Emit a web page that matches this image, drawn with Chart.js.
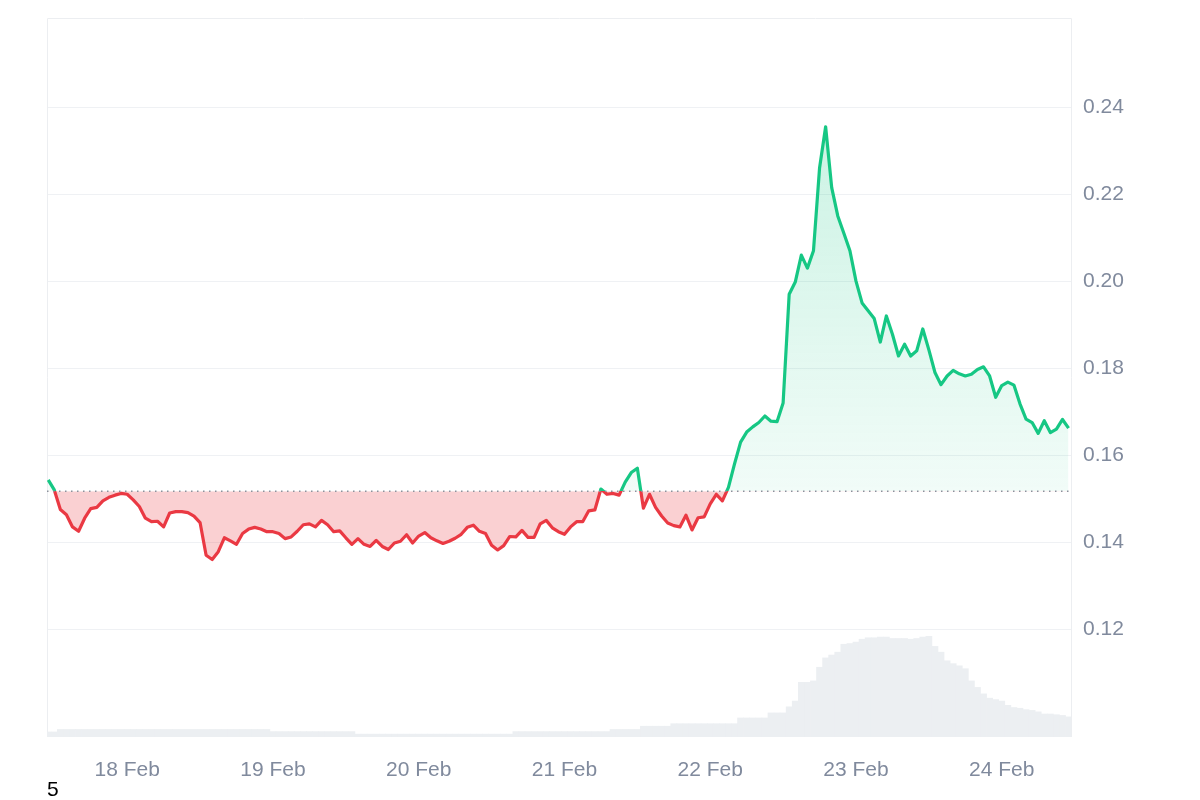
<!DOCTYPE html>
<html>
<head>
<meta charset="utf-8">
<script src="https://cdn.jsdelivr.net/npm/chart.js@4"></script>
<style>
  html, body { margin: 0; padding: 0; background: #fff; }
  #wrap { position: relative; width: 1200px; height: 800px; }
  #note { position: absolute; left: 47px; top: 777px; font: 21px "Liberation Sans", Arial, sans-serif; color: #000; }
</style>
</head>
<body>
<div id="wrap">
  <canvas id="priceChart"></canvas>
  <div id="note">5</div>
</div>
<script>
// hourly samples, hour 0 = 17 Feb 00:00
const firstHour = 11;
const baseline = 0.1517;

const prices = [
  0.1543, 0.1520, 0.1475, 0.1463, 0.1435, 0.1425, 0.1455, 0.1477, 0.1480, 0.1495,
  0.1503, 0.1508, 0.1512, 0.1510, 0.1497, 0.1482, 0.1455, 0.1447, 0.1448, 0.1435,
  0.1467, 0.1470, 0.1470, 0.1468, 0.1460, 0.1445, 0.1370, 0.1360, 0.1378, 0.1410,
  0.1403, 0.1395, 0.1420, 0.1430, 0.1434, 0.1430, 0.1424, 0.1424, 0.1420, 0.1408,
  0.1412, 0.1425, 0.1440, 0.1442, 0.1435, 0.1450, 0.1440, 0.1424, 0.1426, 0.1410,
  0.1395, 0.1408, 0.1395, 0.1390, 0.1404, 0.1390, 0.1383, 0.1398, 0.1402, 0.1417,
  0.1398, 0.1414, 0.1422, 0.1410, 0.1403, 0.1397, 0.1402, 0.1409, 0.1418, 0.1434,
  0.1439, 0.1425, 0.1420, 0.1393, 0.1382, 0.1392, 0.1413, 0.1412, 0.1427, 0.1411,
  0.1411, 0.1442, 0.1450, 0.1433, 0.1424, 0.1418, 0.1435, 0.1447, 0.1447, 0.1472,
  0.1474, 0.1522, 0.1510, 0.1512, 0.1508, 0.1538, 0.1560, 0.1570, 0.1478, 0.1510,
  0.1480, 0.1460, 0.1444, 0.1438, 0.1435, 0.1462, 0.1428, 0.1456, 0.1458, 0.1488,
  0.1510, 0.1495, 0.1526, 0.1580, 0.1630, 0.1653, 0.1665, 0.1675, 0.1690, 0.1678,
  0.1677, 0.1720, 0.1970, 0.1998, 0.2060, 0.2030, 0.2070, 0.2260, 0.2355, 0.2215,
  0.2150, 0.2110, 0.2070, 0.2000, 0.1950, 0.1932, 0.1914, 0.1860, 0.1920, 0.1878,
  0.1828, 0.1855, 0.1828, 0.1840, 0.1890, 0.1842, 0.1790, 0.1762, 0.1782, 0.1795,
  0.1787, 0.1782, 0.1786, 0.1797, 0.1803, 0.1782, 0.1733, 0.1760, 0.1768, 0.1761,
  0.1718, 0.1683, 0.1675, 0.1650, 0.1679, 0.1652, 0.1660, 0.1682, 0.1662
];

// volume, millions
const volumes = [
  0.7, 0.7, 1.05, 1.05, 1.05, 1.05, 1.05, 1.05, 1.05, 1.05,
  1.05, 1.05, 1.05, 1.05, 1.05, 1.05, 1.05, 1.05, 1.05, 1.05,
  1.05, 1.05, 1.05, 1.05, 1.05, 1.05, 1.05, 1.05, 1.05, 1.05,
  1.05, 1.05, 1.05, 1.05, 1.05, 1.05, 1.05, 0.75, 0.75, 0.75,
  0.75, 0.75, 0.75, 0.75, 0.75, 0.75, 0.75, 0.75, 0.75, 0.75,
  0.75, 0.4, 0.4, 0.4, 0.4, 0.4, 0.4, 0.4, 0.4, 0.4,
  0.4, 0.4, 0.4, 0.4, 0.4, 0.4, 0.4, 0.4, 0.4, 0.4,
  0.4, 0.4, 0.4, 0.4, 0.4, 0.4, 0.4, 0.75, 0.75, 0.75,
  0.75, 0.75, 0.75, 0.75, 0.75, 0.75, 0.75, 0.75, 0.75, 0.75,
  0.75, 0.75, 0.75, 1.05, 1.05, 1.05, 1.05, 1.05, 1.5, 1.5,
  1.5, 1.5, 1.5, 1.85, 1.85, 1.85, 1.85, 1.85, 1.85, 1.85,
  1.85, 1.85, 1.85, 1.85, 2.65, 2.65, 2.65, 2.65, 2.65, 3.35,
  3.35, 3.35, 4.2, 5.0, 7.6, 7.6, 7.8, 9.7, 11.0, 11.4,
  11.8, 12.9, 13.0, 13.2, 13.6, 13.8, 13.8, 13.9, 13.9, 13.7,
  13.7, 13.7, 13.6, 13.7, 13.9, 14.0, 12.6, 11.8, 10.6, 10.2,
  9.9, 9.5, 7.8, 6.9, 6.0, 5.4, 5.2, 5.0, 4.4, 4.1,
  4.0, 3.8, 3.7, 3.5, 3.2, 3.2, 3.1, 3.0, 2.8
];

const dayHours = [24, 48, 72, 96, 120, 144, 168];
const dayLabels = ['18 Feb', '19 Feb', '20 Feb', '21 Feb', '22 Feb', '23 Feb', '24 Feb'];
const yTicks = [0.12, 0.14, 0.16, 0.18, 0.20, 0.22, 0.24];

const green = '#16c784';
const red = '#ea3943';
const axisGrey = '#808a9d';
const font = { family: '"Liberation Sans", Arial, sans-serif', size: 21 };

const xMin = 10.8, xMax = 179.4;

const pricePoints = prices.map((p, i) => ({ x: firstHour + i, y: p }));
const volumePoints = volumes.map((v, i) => ({ x: firstHour + i, y: v }));

// line colour switches at the baseline
function lineColor(ctx) {
  const { chart } = ctx;
  const a = chart.chartArea;
  if (!a) return green;
  const base = chart.scales.y.getPixelForValue(baseline);
  const f = Math.min(1, Math.max(0, (base - a.top) / (a.bottom - a.top)));
  const g = chart.ctx.createLinearGradient(0, a.top, 0, a.bottom);
  g.addColorStop(0, green);
  g.addColorStop(f, green);
  g.addColorStop(f, red);
  g.addColorStop(1, red);
  return g;
}

function upFill(ctx) {
  const { chart } = ctx;
  const a = chart.chartArea;
  if (!a) return 'rgba(22,199,132,0.12)';
  const base = chart.scales.y.getPixelForValue(baseline);
  const top = chart.scales.y.getPixelForValue(Math.max(...prices));
  const g = chart.ctx.createLinearGradient(0, top, 0, base);
  g.addColorStop(0, 'rgba(22,199,132,0.22)');
  g.addColorStop(1, 'rgba(22,199,132,0.06)');
  return g;
}

// thin frame on left, top and right of the plot
const framePlugin = {
  id: 'frame',
  beforeDatasetsDraw(chart) {
    const { ctx, chartArea: a } = chart;
    ctx.save();
    ctx.strokeStyle = '#eceef1';
    ctx.lineWidth = 1;
    ctx.beginPath();
    ctx.moveTo(a.left + 0.5, a.bottom);
    ctx.lineTo(a.left + 0.5, a.top + 0.5);
    ctx.lineTo(a.right + 0.5, a.top + 0.5);
    ctx.lineTo(a.right + 0.5, a.bottom);
    ctx.stroke();
    ctx.restore();
  }
};

new Chart(document.getElementById('priceChart'), {
  type: 'line',
  data: {
    datasets: [
      {
        label: 'Baseline',
        data: [{ x: xMin, y: baseline }, { x: xMax, y: baseline }],
        borderColor: '#8a919c',
        borderWidth: 1.5,
        borderDash: [1.5, 4.5],
        pointRadius: 0,
        fill: false,
        order: 0
      },
      {
        label: 'Price',
        data: pricePoints,
        borderColor: lineColor,
        backgroundColor: upFill,
        borderWidth: 3.2,
        borderJoinStyle: 'round',
        pointRadius: 0,
        tension: 0,
        fill: { target: { value: baseline }, below: 'rgba(234,57,67,0.24)' },
        order: 1
      },
      {
        type: 'bar',
        label: 'Volume',
        data: volumePoints,
        yAxisID: 'yv',
        backgroundColor: '#eceff2',
        borderWidth: 0,
        barPercentage: 1,
        categoryPercentage: 1,
        order: 3
      }
    ]
  },
  options: {
    responsive: true,
    maintainAspectRatio: false,
    animation: false,
    layout: { padding: { left: 47, top: 18, right: 0, bottom: 0 } },
    plugins: {
      legend: { display: false },
      tooltip: { enabled: false }
    },
    scales: {
      x: {
        type: 'linear',
        offset: false,
        min: xMin,
        max: xMax,
        afterBuildTicks(scale) { scale.ticks = dayHours.map(v => ({ value: v })); },
        afterFit(scale) {
          scale.height = 63;
          scale.paddingLeft = 0;
          scale.paddingRight = 0;
        },
        ticks: {
          autoSkip: false,
          maxRotation: 0,
          padding: 21,
          color: axisGrey,
          font,
          callback: (v, i) => dayLabels[i]
        },
        grid: { display: false, drawTicks: false },
        border: { display: false }
      },
      y: {
        position: 'right',
        min: 0.0952,
        max: 0.2605,
        afterBuildTicks(scale) { scale.ticks = yTicks.map(v => ({ value: v })); },
        afterFit(scale) {
          scale.width = 129;
          scale.paddingTop = 0;
          scale.paddingBottom = 0;
        },
        ticks: {
          padding: 12,
          color: axisGrey,
          font,
          callback: v => v.toFixed(2)
        },
        grid: { color: '#eff1f4', lineWidth: 1, drawTicks: false },
        border: { display: false }
      },
      yv: {
        display: false,
        min: 0,
        max: 100
      }
    }
  },
  plugins: [framePlugin]
});
</script>
</body>
</html>
